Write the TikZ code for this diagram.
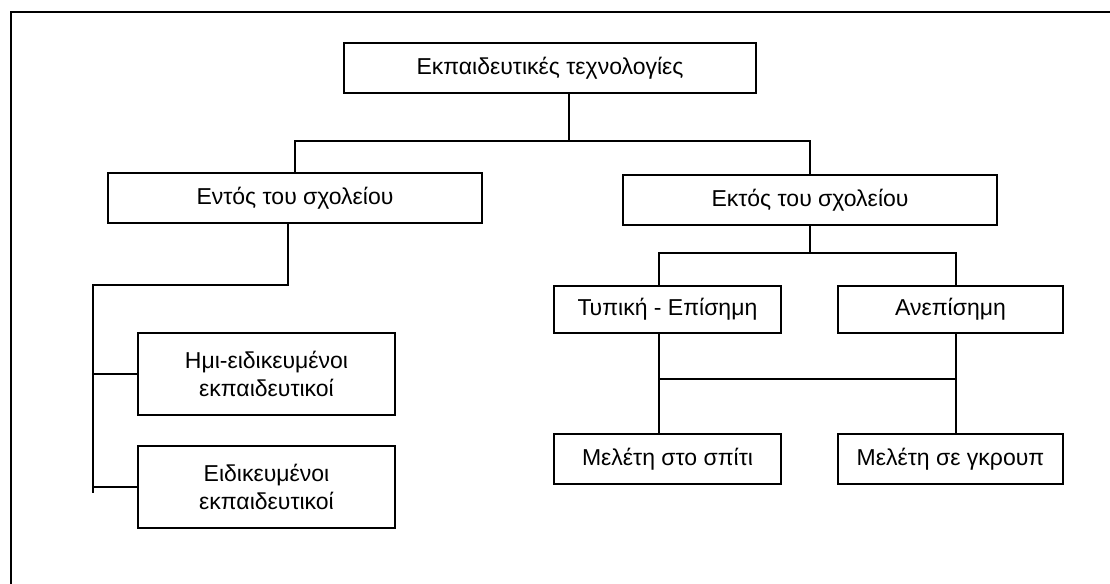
\documentclass[tikz,border=0pt]{standalone}
\usepackage{fontspec}
\setmainfont{Liberation Sans}
\usepackage{tikz}

\begin{document}
\begin{tikzpicture}[x=0.5pt, y=-0.5pt, line width=0.75pt, font=\fontsize{11.5}{14}\selectfont,
	main/.style = {draw, rectangle, align=center, inner sep=0pt}]
	\useasboundingbox (0,0) rectangle (1110,584);
	\draw[line width=1.2pt] (1120,12) -- (11,12) -- (11,600);
	\node[main, minimum width=206pt, minimum height=25pt] (top) at (550,68) {Εκπαιδευτικές τεχνολογίες};
	\node[main, minimum width=187pt, minimum height=25pt] (entos) at (295,198) {Εντός του σχολείου};
	\node[main, minimum width=187pt, minimum height=25pt] (ektos) at (810,200) {Εκτός του σχολείου};
	\node[main, minimum width=128.5pt, minimum height=41pt] (hmi) at (266.5,374) {Ημι-ειδικευμένοι\\εκπαιδευτικοί};
	\node[main, minimum width=128.5pt, minimum height=41pt] (eidik) at (266.5,487) {Ειδικευμένοι\\εκπαιδευτικοί};
	\node[main, minimum width=113.5pt, minimum height=23.5pt] (typiki) at (667.5,309.5) {Τυπική - Επίσημη};
	\node[main, minimum width=112.5pt, minimum height=23.5pt] (anep) at (950.5,309.5) {Ανεπίσημη};
	\node[main, minimum width=113.5pt, minimum height=25pt] (spiti) at (667.5,459) {Μελέτη στο σπίτι};
	\node[main, minimum width=112.5pt, minimum height=25pt] (group) at (950.5,459) {Μελέτη σε γκρουπ};
	% junctions
	\coordinate (tj) at (569,141);
	\coordinate (lj) at (93,285);
	\coordinate (lbot) at (93,493);
	\coordinate (rj) at (810,253);
	\coordinate (sl) at (659,379);
	\coordinate (sr) at (956,379);
	\draw[-] (top.south -| tj) -- (tj);
	\draw[-] (entos.north) |- (tj) -| (ektos.north);
	\draw[-] ([xshift=-3.5pt]entos.south) |- (lj) -- (lbot);
	\draw[-] (hmi.west) -- (hmi.west -| lj);
	\draw[-] (eidik.west) -- (eidik.west -| lj);
	\draw[-] (ektos.south) -- (rj);
	\draw[-] (typiki.north -| sl) |- (rj) -| (anep.north -| sr);
	\draw[-] (typiki.south -| sl) -- (spiti.north -| sl);
	\draw[-] (anep.south -| sr) -- (group.north -| sr);
	\draw[-] (sl) -- (sr);
\end{tikzpicture}
\end{document}
